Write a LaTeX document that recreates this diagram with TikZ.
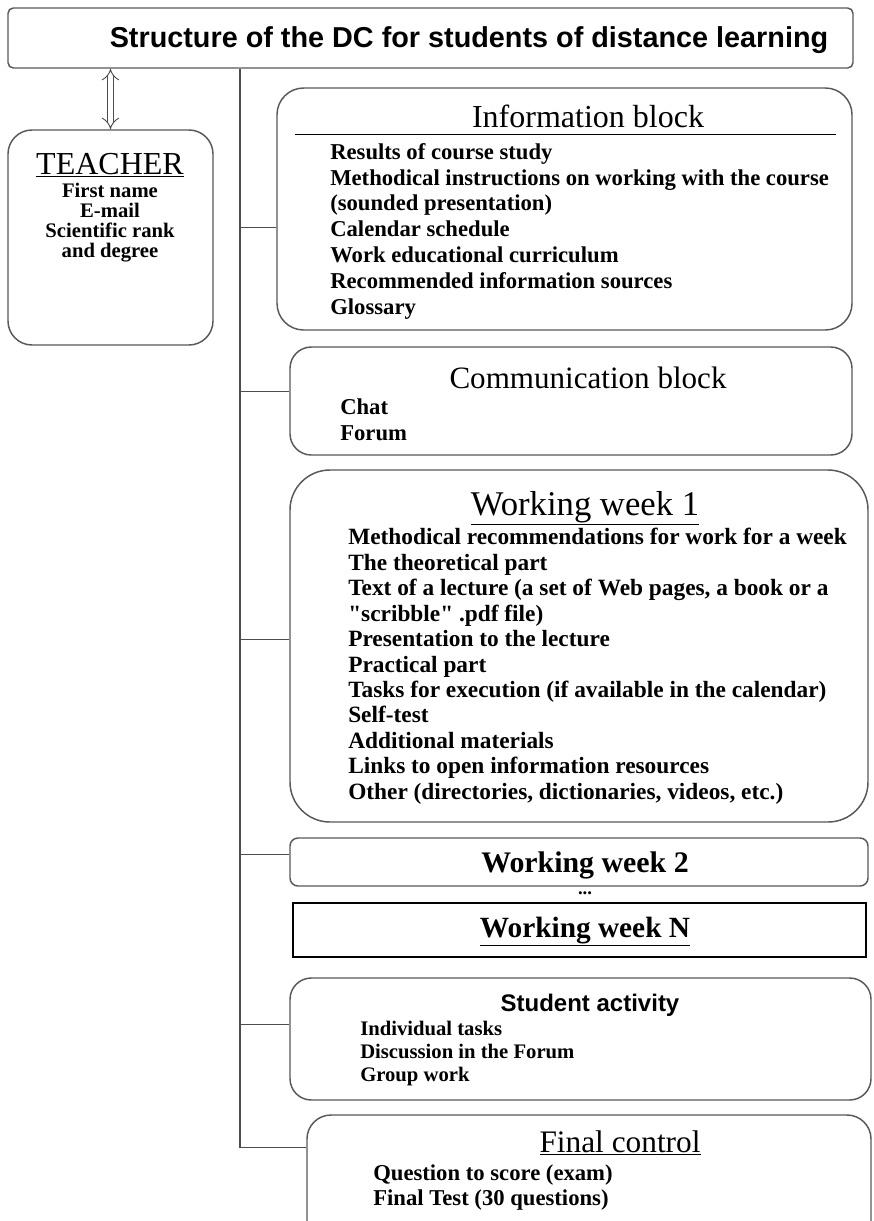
\documentclass[tikz,border=0pt]{standalone}
\usepackage{fontspec}
\setmainfont{Liberation Serif}
\setsansfont{Liberation Sans}
\usetikzlibrary{arrows.meta,fit,calc}
\begin{document}
\begin{tikzpicture}[x=0.75pt,y=-0.75pt,
  box/.style={draw=black!65, line width=1.1pt, inner sep=0pt},
  conn/.style={draw=black!70, line width=1.1pt},
  head/.style={font=\fontsize{24}{28}\selectfont, inner sep=0pt, anchor=base},
  items/.style={font=\bfseries\fontsize{17}{19.2}\selectfont, align=left, inner sep=0pt, anchor=north west},
]
\useasboundingbox (0,0) rectangle (874,1221);
\fill[white] (0,0) rectangle (874,1221);
\clip (0,0) rectangle (874,1221);

% title
\node[box, rounded corners=4pt, fit={(8,8)(853,68)}] (title) {};
\node[font=\sffamily\bfseries\fontsize{21.6}{24}\selectfont, inner sep=0pt, anchor=base] (titletext) at (469,47) {Structure of the DC for students of distance learning};

% teacher
\node[box, rounded corners=18pt, fit={(8,130)(213,345)}] (teacher) {};
\node[head] (teachh) at (110,174) {\underline{TEACHER}};
\node[font=\bfseries\fontsize{15.5}{15}\selectfont, align=center, anchor=north, inner sep=0pt] (teachitems) at (110,183) {First name\\E-mail\\Scientific rank\\and degree};
\draw[black!70, line width=0.7pt, double distance=4pt, {Implies[length=6pt]}-{Implies[length=6pt]}] (teacher.north) -- (teacher.north |- title.south);

% information block
\node[box, rounded corners=20pt, fit={(277,88)(852,330)}] (info) {};
\node[head] (infoh) at (588,127) {Information block};
\draw[black, line width=1pt] ($(info.north west)+(19,47)$) -- ($(info.north east)+(-17,47)$);
\node[items, font=\bfseries\fontsize{17}{19.4}\selectfont] (infoitems) at (330,143) {Results of course study\\Methodical instructions on working with the course\\(sounded presentation)\\Calendar schedule\\Work educational curriculum\\Recommended information sources\\Glossary};

% communication block
\node[box, rounded corners=16pt, fit={(290,347)(852,455)}] (comm) {};
\node[head, font=\fontsize{23.3}{27}\selectfont] (commh) at (588,388) {Communication block};
\node[items, font=\bfseries\fontsize{17}{19.5}\selectfont] (commitems) at (340,398) {Chat\\Forum};

% working week 1
\node[box, rounded corners=30pt, fit={(290,470)(868,822)}] (w1) {};
\node[head, font=\fontsize{26}{30}\selectfont] (w1h) at (585,515) {\underline{Working week 1}};
\node[items, font=\bfseries\fontsize{17.5}{19.1}\selectfont] (w1items) at (348,528) {Methodical recommendations for work for a week\\The theoretical part\\Text of a lecture (a set of Web pages, a book or a\\\textquotedbl scribble\textquotedbl{} .pdf file)\\Presentation to the lecture\\Practical part\\Tasks for execution (if available in the calendar)\\Self-test\\Additional materials\\Links to open information resources\\Other (directories, dictionaries, videos, etc.)};

% working week 2
\node[box, rounded corners=6pt, fit={(290,838)(868,886)}] (w2) {};
\node[head, font=\bfseries\fontsize{22.4}{26}\selectfont] (w2h) at (585,872) {Working week 2};
\node[font=\bfseries\fontsize{14}{16}\selectfont, inner sep=0pt] (dots) at (585,893) {...};

% working week N
\node[draw=black, line width=1.8pt, inner sep=0pt, fit={(293,903)(866,957)}] (wn) {};
\node[head, font=\bfseries\fontsize{22}{26}\selectfont] (wnh) at (585,937) {\underline{Working week N}};

% student activity
\node[box, rounded corners=16pt, fit={(290,978)(871,1100)}] (stud) {};
\node[head, font=\sffamily\bfseries\fontsize{18}{22}\selectfont] (studh) at (590,1011) {Student activity};
\node[items, font=\bfseries\fontsize{15.5}{17.3}\selectfont] (studitems) at (360,1021) {Individual tasks\\Discussion in the Forum\\Group work};

% final control
\node[box, rounded corners=18pt, fit={(307,1115)(871,1245)}] (fin) {};
\node[head, font=\fontsize{23.5}{27}\selectfont] (finh) at (620,1152) {\underline{Final control}};
\node[items, font=\bfseries\fontsize{17}{19}\selectfont] (finitems) at (373,1164) {Question to score (exam)\\Final Test (30 questions)};

% connectors
\coordinate (tr) at (240,0);
\coordinate (bi) at ($(info.north west)+(0,140)$);
\coordinate (bc) at ($(comm.north west)+(0,45)$);
\coordinate (b1) at ($(w1.north west)+(0,170)$);
\coordinate (b2) at ($(w2.north west)+(0,17)$);
\coordinate (bs) at ($(stud.north west)+(0,47)$);
\coordinate (bf) at ($(fin.north west)+(0,33)$);
\draw[conn] (title.south -| tr) |- (bf);
\draw[conn] (bi -| tr) -- (bi);
\draw[conn] (bc -| tr) -- (bc);
\draw[conn] (b1 -| tr) -- (b1);
\draw[conn] (b2 -| tr) -- (b2);
\draw[conn] (bs -| tr) -- (bs);
\end{tikzpicture}
\end{document}
